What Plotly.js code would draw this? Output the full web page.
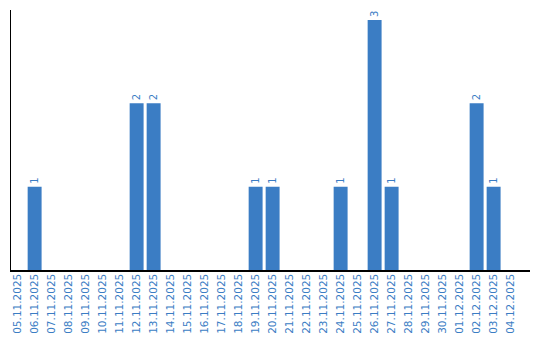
<!DOCTYPE html>
<html>
<head>
<meta charset="utf-8">
<script src="https://cdn.plot.ly/plotly-3.0.1.min.js"></script>
<style>html,body{margin:0;padding:0;background:#fff;}#chart{width:540px;height:340px;}</style>
</head>
<body>
<div id="chart"></div>
<script>
const dates = ["05.11.2025","06.11.2025","07.11.2025","08.11.2025","09.11.2025","10.11.2025","11.11.2025","12.11.2025","13.11.2025","14.11.2025","15.11.2025","16.11.2025","17.11.2025","18.11.2025","19.11.2025","20.11.2025","21.11.2025","22.11.2025","23.11.2025","24.11.2025","25.11.2025","26.11.2025","27.11.2025","28.11.2025","29.11.2025","30.11.2025","01.12.2025","02.12.2025","03.12.2025","04.12.2025"];
const counts = [0,1,0,0,0,0,0,2,2,0,0,0,0,0,1,1,0,0,0,1,0,3,1,0,0,0,0,2,1,0];
const labels = counts.map(v => v > 0 ? String(v) : "");
const blue = "#3b7dc4";
Plotly.newPlot("chart", [{
  type: "bar",
  x: dates,
  y: counts,
  text: labels,
  textposition: "outside",
  textangle: -90,
  cliponaxis: false,
  textfont: {family: "DejaVu Sans", size: 10, color: blue},
  marker: {color: blue},
  width: 0.82,
  hoverinfo: "none"
}], {
  width: 540, height: 340,
  margin: {l: 11, r: 10, t: 10, b: 70},
  paper_bgcolor: "#fff", plot_bgcolor: "#fff",
  showlegend: false,
  xaxis: {
    type: "category",
    range: [-0.39, 30.14],
    showline: true, linecolor: "#000", linewidth: 1.5,
    showgrid: false, zeroline: false, ticks: "",
    ticklabelstandoff: -2,
    tickangle: -90,
    tickfont: {family: "DejaVu Sans", size: 10.5, color: blue}
  },
  yaxis: {
    range: [0, 3.12],
    showline: true, linecolor: "#000", linewidth: 1.5,
    showgrid: false, zeroline: false, showticklabels: false, ticks: ""
  }
}, {staticPlot: true});
</script>
</body>
</html>
